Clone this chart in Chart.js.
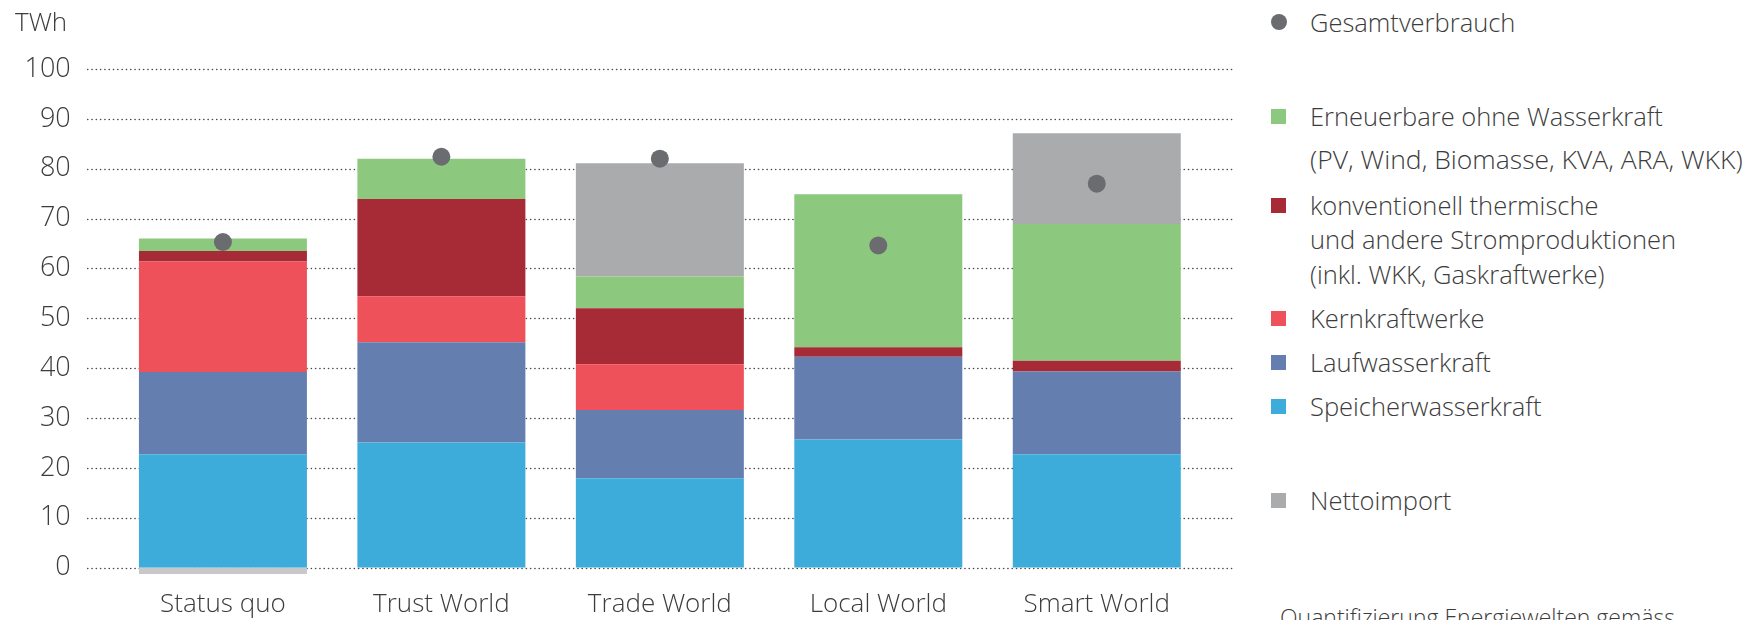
<!DOCTYPE html>
<html>
<head>
<meta charset="utf-8">
<script src="https://cdn.jsdelivr.net/npm/chart.js@4/dist/chart.umd.min.js"></script>
<style>
  body { margin: 0; background: #fff; font-family: "Open Sans", sans-serif; font-weight: 300; color: #3c3c3c; }
  #wrap { position: relative; width: 1745px; height: 620px; overflow: hidden; }
  #box { position: absolute; left: 0; top: 0; width: 1245px; height: 620px; }
  #unit { position: absolute; left: 15px; top: 3px; font-size: 26px; }
  .leg { position: absolute; left: 1310px; font-size: 25.5px; line-height: 34px; white-space: nowrap; }
  .mark { position: absolute; left: 1271px; width: 15px; height: 15px; }
  #foot { position: absolute; left: 1280px; top: 601px; font-size: 23px; white-space: nowrap; }
</style>
</head>
<body>
<div id="wrap">
  <div id="box"><canvas id="myChart"></canvas></div>
  <div id="unit">TWh</div>
  <div id="legend"></div>
  <div id="foot">Quantifizierung Energiewelten gemäss</div>
</div>
<script>
// Szenarien und Werte (TWh)
var categories = ['Status quo', 'Trust World', 'Trade World', 'Local World', 'Smart World'];
var speicher   = [22.7, 25.1, 17.9, 25.7, 22.7];
var lauf       = [16.5, 20.1, 13.7, 16.6, 16.6];
var kern       = [22.2, 9.2, 9.2, 0, 0];
var konv       = [2.1, 19.5, 11.2, 1.9, 2.2];
var erneuerbar = [2.5, 8.1, 6.4, 30.7, 27.4];
var netto      = [-1.3, 0, 22.7, 0, 18.2];
var gesamt     = [65.3, 82.4, 82.0, 64.6, 77.0];
var yTicks     = [0, 10, 20, 30, 40, 50, 60, 70, 80, 90, 100];

var colors = {
  speicher: '#3dacdb',
  lauf: '#647faf',
  kern: '#ef515b',
  konv: '#a62b37',
  erneuerbar: '#8cc97e',
  netto: '#aaabad',
  gesamt: '#6b6c6f'
};

// legende rechts
var legendRows = [
  { text: 'Gesamtverbrauch', color: colors.gesamt, round: true, y: 22 },
  { text: 'Erneuerbare ohne Wasserkraft', color: colors.erneuerbar, y: 116 },
  { text: '(PV, Wind, Biomasse, KVA, ARA, WKK)', y: 159, size: 26.5 },
  { text: 'konventionell thermische', color: colors.konv, y: 205 },
  { text: 'und andere Stromproduktionen', y: 239 },
  { text: '(inkl. WKK, Gaskraftwerke)', y: 274 },
  { text: 'Kernkraftwerke', color: colors.kern, y: 318 },
  { text: 'Laufwasserkraft', color: colors.lauf, y: 362 },
  { text: 'Speicherwasserkraft', color: colors.speicher, y: 406 },
  { text: 'Nettoimport', color: colors.netto, y: 500 }
];
var legendHtml = '';
legendRows.forEach(function(r) {
  if (r.color) {
    var size = r.round ? 16 : 15;
    legendHtml += '<div class="mark" style="top:' + (r.y - size / 2) + 'px;width:' + size + 'px;height:' + size +
      'px;background:' + r.color + (r.round ? ';border-radius:50%' : '') + '"></div>';
  }
  legendHtml += '<div class="leg" style="top:' + (r.y - 17) + 'px' + (r.size ? ';font-size:' + r.size + 'px' : '') + '">' + r.text + '</div>';
});
document.getElementById('legend').innerHTML = legendHtml;

// gepunktete Gitterlinien, etwas breiter als die Kategorien
var dottedGrid = {
  id: 'dottedGrid',
  beforeDatasetsDraw: function(chart) {
    var ctx = chart.ctx;
    var area = chart.chartArea;
    var y = chart.scales.y;
    ctx.save();
    ctx.strokeStyle = '#4a4a4a';
    ctx.lineWidth = 1.6;
    ctx.lineCap = 'round';
    ctx.setLineDash([0.1, 4.2]);
    yTicks.forEach(function(v) {
      var py = Math.round(y.getPixelForValue(v)) + 0.5;
      ctx.beginPath();
      ctx.moveTo(area.left - 26, py);
      ctx.lineTo(area.right + 27, py);
      ctx.stroke();
    });
    ctx.restore();
  }
};

function barSet(label, data, color) {
  return {
    type: 'bar',
    label: label,
    data: data,
    backgroundColor: color,
    borderWidth: 0,
    barPercentage: 0.769,
    categoryPercentage: 1,
    order: 1
  };
}

var nettoSet = barSet('Nettoimport', netto, function(c) {
  return c.raw < 0 ? '#c7c8ca' : colors.netto;
});

var ctx = document.getElementById('myChart').getContext('2d');
var chart = new Chart(ctx, {
  data: {
    labels: categories,
    datasets: [
      {
        type: 'line',
        label: 'Gesamtverbrauch',
        data: gesamt,
        showLine: false,
        pointRadius: 9,
        pointHoverRadius: 9,
        pointBackgroundColor: colors.gesamt,
        pointBorderWidth: 0,
        stack: 'punkte',
        order: 0
      },
      barSet('Speicherwasserkraft', speicher, colors.speicher),
      barSet('Laufwasserkraft', lauf, colors.lauf),
      barSet('Kernkraftwerke', kern, colors.kern),
      barSet('konventionell thermische und andere Stromproduktionen', konv, colors.konv),
      barSet('Erneuerbare ohne Wasserkraft', erneuerbar, colors.erneuerbar),
      nettoSet
    ]
  },
  options: {
    responsive: true,
    maintainAspectRatio: false,
    animation: false,
    layout: { padding: { top: 69, right: 39, left: 0, bottom: 0 } },
    plugins: {
      legend: { display: false },
      tooltip: { enabled: false }
    },
    scales: {
      x: {
        stacked: true,
        grid: { display: false, drawTicks: false },
        border: { display: false },
        ticks: { color: '#3c3c3c', padding: 11, font: { family: 'Open Sans', size: 26, weight: '300' } },
        afterFit: function(scale) { scale.height = 42.5; }
      },
      y: {
        stacked: true,
        min: -2,
        max: 100,
        grid: { display: false, drawTicks: false },
        border: { display: false },
        afterBuildTicks: function(scale) {
          scale.ticks = yTicks.map(function(v) { return { value: v }; });
        },
        ticks: { color: '#3c3c3c', padding: 43, font: { family: 'Open Sans', size: 27, weight: '300' } },
        afterFit: function(scale) {
          scale.width = 113.7;
          // keine Zusatzpolster fuer halbe Beschriftungshoehe
          scale.paddingTop = 0;
          scale.paddingBottom = 0;
        }
      }
    }
  },
  plugins: [dottedGrid]
});
</script>
</body>
</html>
